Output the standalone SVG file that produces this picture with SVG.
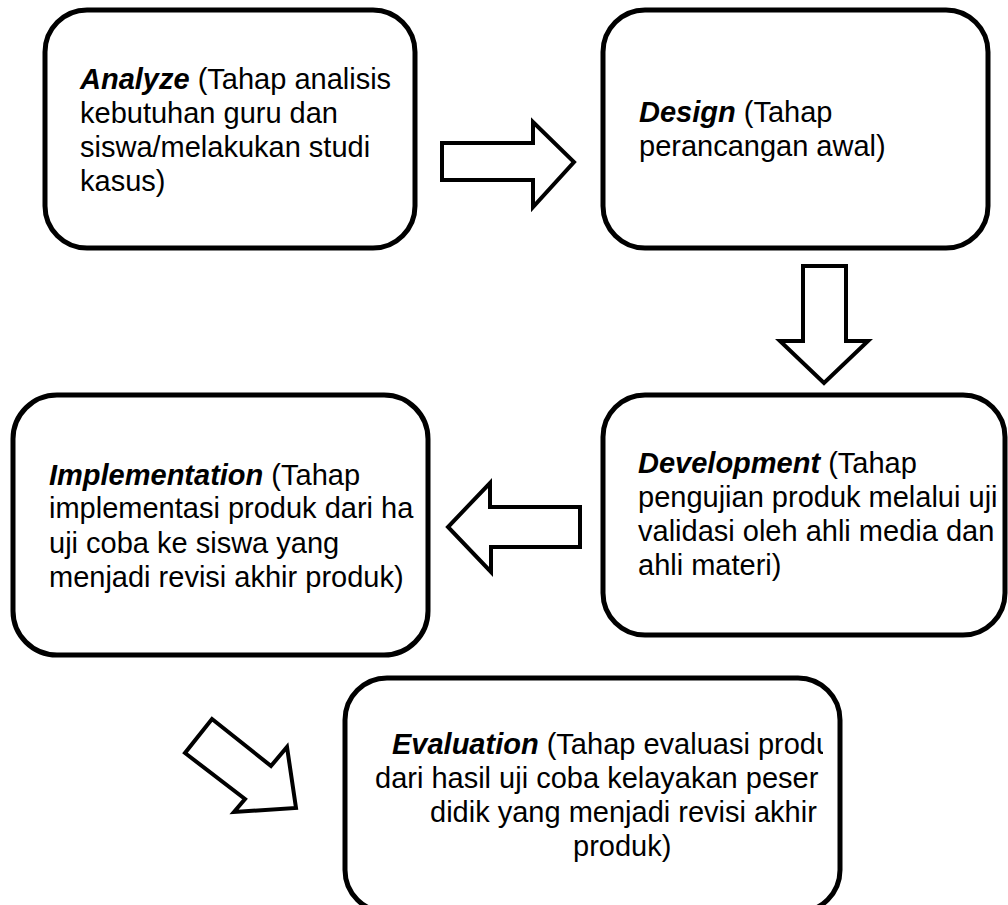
<svg xmlns="http://www.w3.org/2000/svg" width="1008" height="905" viewBox="0 0 1008 905">
<style>
.box{fill:#fff;stroke:#000;stroke-width:5}
.arr{fill:#fff;stroke:#000;stroke-width:4;stroke-linejoin:miter}
text{font-family:"Liberation Sans",Arial,sans-serif;font-size:29px;fill:#000}
.k{font-weight:bold;font-style:italic}
</style>
<defs>
<clipPath id="c5"><rect x="340" y="670" width="483" height="240"/></clipPath>
</defs>
<rect width="1008" height="905" fill="#fff"/>
<g id="connectors">
<polygon class="arr" points="442,143 533,143 533,122 574,162 533,207 533,180 442,180"/>
<polygon class="arr" points="803,266 846,266 846,341 868,341 824,383 780,341 803,341"/>
<polygon class="arr" points="580,507 490,507 490,483 448,527 491,572 491,547 580,547"/>
<polygon class="arr" points="212,719 271,766 287,747 296,808 234,812 245,799 185,753"/>
</g>
<g id="analyze">
<rect class="box" x="45" y="10" width="370" height="238" rx="42"/>
<text x="80" y="89"><tspan class="k">Analyze</tspan> (Tahap analisis</text>
<text x="80" y="123">kebutuhan guru dan</text>
<text x="80" y="157">siswa/melakukan studi</text>
<text x="80" y="191">kasus)</text>
</g>
<g id="design">
<rect class="box" x="603" y="10" width="385" height="238" rx="42"/>
<text x="639" y="122"><tspan class="k">Design</tspan> (Tahap</text>
<text x="639" y="156">perancangan awal)</text>
</g>
<g id="development">
<rect class="box" x="603" y="395" width="402" height="240" rx="42"/>
<text x="638" y="473"><tspan class="k">Development</tspan> (Tahap</text>
<text x="638" y="507">pengujian produk melalui uji</text>
<text x="638" y="541">validasi oleh ahli media dan</text>
<text x="638" y="575">ahli materi)</text>
</g>
<g id="implementation">
<rect class="box" x="13" y="395" width="415" height="260" rx="44"/>
<text x="49" y="485"><tspan class="k">Implementation</tspan> (Tahap</text>
<text x="49" y="518">implementasi produk dari ha</text>
<text x="49" y="553">uji coba ke siswa yang</text>
<text x="49" y="587">menjadi revisi akhir produk)</text>
</g>
<g id="evaluation">
<rect class="box" x="345" y="678" width="495" height="234" rx="42"/>
<g clip-path="url(#c5)">
<text x="392" y="754"><tspan class="k">Evaluation</tspan> (Tahap evaluasi produ</text>
<text x="375" y="788">dari hasil uji coba kelayakan peser</text>
<text x="430" y="822">didik yang menjadi revisi akhir</text>
<text x="573" y="856">produk)</text>
</g>
</g>
</svg>
